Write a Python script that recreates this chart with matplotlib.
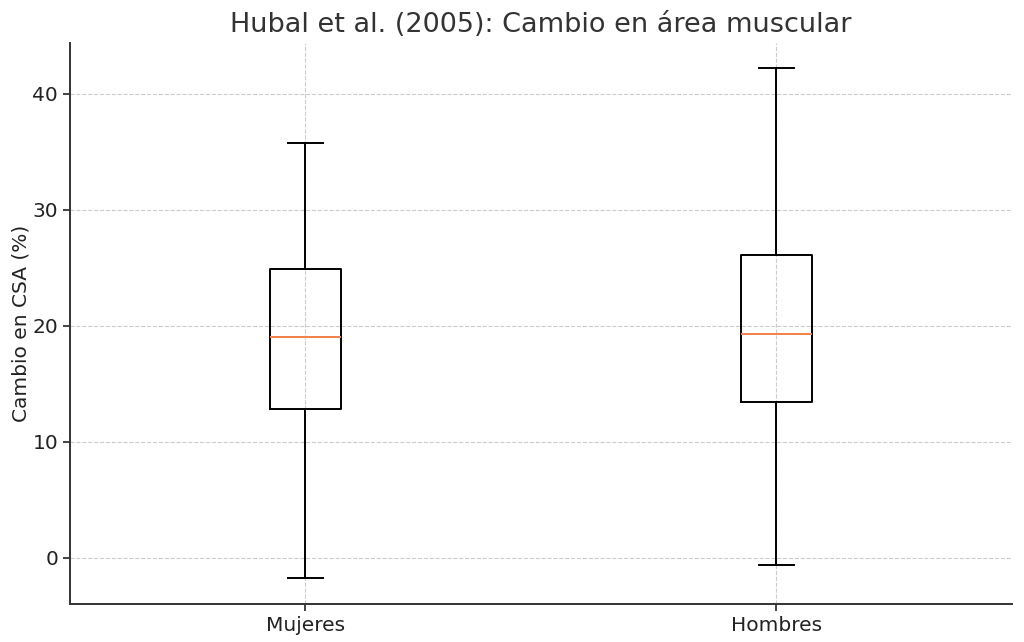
import matplotlib
matplotlib.use("Agg")
import matplotlib.pyplot as plt

# --- Datos ---
grupos = ["Mujeres", "Hombres"]
bigote_inf = [-1.8, -0.6]
q1 = [12.8, 13.4]
mediana = [19.0, 19.3]
q3 = [24.9, 26.1]
bigote_sup = [35.8, 42.2]

stats = [
    {"label": g, "whislo": lo, "q1": a, "med": m, "q3": b, "whishi": hi, "fliers": []}
    for g, lo, a, m, b, hi in zip(grupos, bigote_inf, q1, mediana, q3, bigote_sup)
]

fig = plt.figure(figsize=(10.24, 6.42), dpi=100)
ax = fig.add_axes([0.0684, 0.0592, 0.9196, 0.874])

lw = 1.4
ax.bxp(stats, showfliers=False,
       boxprops=dict(color="black", linewidth=lw),
       whiskerprops=dict(color="black", linewidth=lw),
       capprops=dict(color="black", linewidth=lw),
       medianprops=dict(color="#f0804a", linewidth=lw))

ax.set_title("Hubal et al. (2005): Cambio en área muscular", fontsize=19.5,
             color="#333333", pad=7.5)
ax.set_ylabel("Cambio en CSA (%)", fontsize=14.5, color="#222222", labelpad=1.5)
ax.tick_params(labelsize=14.5, colors="#222222", length=5, width=1.2)
ax.grid(True, linestyle="--", color="#cccccc", linewidth=0.8)
ax.set_axisbelow(True)
for s in ["top", "right"]:
    ax.spines[s].set_visible(False)
for s in ["left", "bottom"]:
    ax.spines[s].set_linewidth(1.4)
    ax.spines[s].set_color("#333333")

fig.savefig("out.png", dpi=100)
